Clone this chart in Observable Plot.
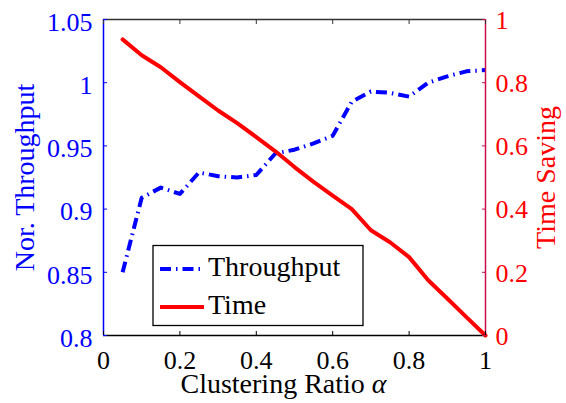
<!DOCTYPE html>
<html><head><meta charset="utf-8">
<script src="https://cdn.jsdelivr.net/npm/d3@7"></script>
<script src="https://cdn.jsdelivr.net/npm/@observablehq/plot@0.6"></script>
<style>html,body{margin:0;padding:0;background:#fff;} #chart{width:566px;height:403px;}</style>
</head><body><div id="chart"></div>
<script>
const alpha = [0.05,0.10,0.15,0.20,0.25,0.30,0.35,0.40,0.45,0.50,0.55,0.60,0.65,0.70,0.75,0.80,0.85,0.90,0.95,1.00];
const throughput = [0.850,0.909,0.917,0.912,0.929,0.926,0.925,0.927,0.944,0.947,0.952,0.958,0.985,0.993,0.992,0.989,1.000,1.005,1.009,1.010];
const timeSaving = [0.937,0.887,0.849,0.802,0.757,0.712,0.672,0.628,0.583,0.533,0.486,0.443,0.400,0.333,0.295,0.248,0.175,0.117,0.058,0.000];
const xTicks = [0,0.2,0.4,0.6,0.8,1];
const leftTicks = [0.8,0.85,0.9,0.95,1,1.05];
const rightTicks = [0,0.2,0.4,0.6,0.8,1];
const seriesNames = ["Throughput","Time"];
const xTitle = "Clustering Ratio ";
const xSymbol = "α";
const leftTitle = "Nor. Throughput";
const rightTitle = "Time Saving";

const yMin = leftTicks[0], yMax = leftTicks[leftTicks.length-1];
const toLeft = t => yMin + t * (yMax - yMin);
const fromLeft = v => +((v - yMin) / (yMax - yMin)).toFixed(3);
const fmt = d3.format("~g");
const data = alpha.map((a,i) => ({a, thr: throughput[i], time: timeSaving[i]}));
const FONT = "'Liberation Serif', 'DejaVu Serif', serif";

const plot = Plot.plot({
  width: 566, height: 403,
  marginLeft: 103, marginRight: 81, marginTop: 19, marginBottom: 68,
  style: {fontFamily: FONT, background: "white", overflow: "visible"},
  x: {domain: [0, 1]},
  y: {domain: [yMin, yMax]},
  marks: [
    Plot.line(data, {x: "a", y: "thr", stroke: "blue", strokeWidth: 4, strokeDasharray: "11,5,1.5,5", strokeLinecap: "butt"}),
    Plot.line(data, {x: "a", y: d => toLeft(d.time), stroke: "red", strokeWidth: 4}),
    Plot.ruleY([yMin], {stroke: "black", strokeWidth: 1.3}),
    Plot.ruleY([yMax], {stroke: "#333", strokeWidth: 1.3}),
    Plot.ruleX([0], {stroke: "blue", strokeWidth: 1.5}),
    Plot.ruleX([1], {stroke: "#c8104a", strokeWidth: 1.5}),
    // inward ticks
    Plot.axisX({anchor: "bottom", ticks: xTicks, tickSize: 4, dy: -4, tickFormat: () => "", label: null, color: "black"}),
    Plot.axisX({anchor: "top", ticks: xTicks, tickSize: 4, dy: 4, tickFormat: () => "", label: null, color: "#333"}),
    Plot.axisY({anchor: "left", ticks: leftTicks, tickSize: 4, dx: 4, tickFormat: () => "", label: null, color: "blue"}),
    Plot.axisY({anchor: "right", ticks: rightTicks.map(toLeft), tickSize: 4, dx: -4, tickFormat: () => "", label: null, color: "#c8104a"}),
    // tick labels
    Plot.axisX({anchor: "bottom", ticks: xTicks, tickSize: 0, tickPadding: 15, tickFormat: fmt, label: null, color: "black", fontSize: 26}),
    Plot.axisY({anchor: "left", ticks: leftTicks, tickSize: 0, tickPadding: 11, dy: 3, tickFormat: fmt, label: null, color: "blue", fontSize: 26}),
    Plot.axisY({anchor: "right", ticks: rightTicks.map(toLeft), tickSize: 0, tickPadding: 10, dy: 1, tickFormat: v => fmt(fromLeft(v)), label: null, color: "red", fontSize: 26}),
    // axis titles
    Plot.text([leftTitle], {text: d => d, frameAnchor: "left", textAnchor: "middle", lineAnchor: "middle", dx: -78, rotate: -90, fontSize: 28, fill: "blue"}),
    Plot.text([rightTitle], {text: d => d, frameAnchor: "right", textAnchor: "middle", lineAnchor: "middle", dx: 61, rotate: -90, fontSize: 28, fill: "red"}),
    Plot.text([xTitle + xSymbol], {text: d => d, frameAnchor: "bottom", textAnchor: "middle", lineAnchor: "middle", dx: -11, dy: 49, fontSize: 28, fill: "black"})
  ]
});
document.getElementById("chart").appendChild(plot);

// italic alpha in x title
const svg = d3.select(plot);
svg.selectAll("text").each(function() {
  const t = d3.select(this);
  if (t.text() === xTitle + xSymbol) {
    t.text(null);
    t.append("tspan").text(xTitle);
    t.append("tspan").attr("font-style", "italic").text(xSymbol);
  }
});

// legend
const lg = svg.append("g").attr("font-family", FONT).attr("text-anchor", "start");
lg.append("rect").attr("x", 153).attr("y", 245.5).attr("width", 210).attr("height", 80)
  .attr("fill", "white").attr("stroke", "black").attr("stroke-width", 1.3);
const styles = [
  {stroke: "blue", dash: "11,5,1.5,5"},
  {stroke: "red", dash: null}
];
seriesNames.forEach((name, i) => {
  const yy = 269 + i * 38;
  lg.append("line").attr("x1", 160).attr("x2", 204).attr("y1", yy).attr("y2", yy)
    .attr("stroke", styles[i].stroke).attr("stroke-width", 4)
    .attr("stroke-dasharray", styles[i].dash);
  lg.append("text").attr("x", 208).attr("y", yy + 7).attr("text-anchor", "start")
    .attr("font-size", 28).attr("fill", "black").text(name);
});
</script>
</body></html>
